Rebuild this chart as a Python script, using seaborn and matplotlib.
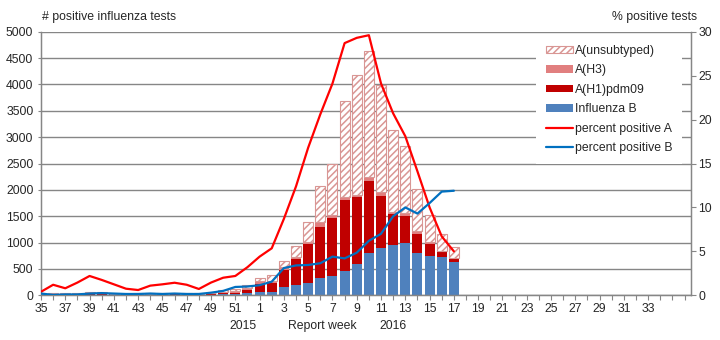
import numpy as np
import matplotlib
matplotlib.use("Agg")
import matplotlib.pyplot as plt
import seaborn as sns
from matplotlib.patches import Patch
from matplotlib.lines import Line2D

# ---------------- data ----------------
weeks = list(range(35, 53)) + list(range(1, 37))   # report weeks 2015/35 .. 2016/36

infl_b = [8, 10, 8, 8, 12, 12, 8, 8, 10, 10, 10, 12, 10, 8, 10, 18, 25, 38,
          70, 72, 163, 200, 227, 320, 370, 470, 598, 808, 902, 948, 1001, 802, 751, 730, 641]
a_h1 = [5, 10, 8, 8, 18, 18, 8, 8, 10, 12, 10, 14, 12, 10, 15, 30, 25, 62,
        139, 159, 317, 480, 749, 973, 1090, 1337, 1260, 1365, 986, 588, 508, 360, 225, 95, 57]
a_h3 = [3, 8, 6, 6, 10, 10, 5, 5, 6, 8, 8, 10, 8, 6, 10, 20, 26, 33,
        53, 39, 51, 52, 44, 91, 62, 63, 44, 64, 65, 38, 46, 51, 29, 24, 15]
a_unsub = [4, 12, 13, 13, 15, 15, 9, 9, 9, 15, 12, 14, 15, 11, 15, 32, 44, 62,
           68, 119, 119, 203, 366, 688, 968, 1820, 2278, 2393, 2037, 1556, 1275, 802, 517, 313, 197]

pct_a = [0.4, 1.2, 0.8, 1.45, 2.2, 1.75, 1.25, 0.75, 0.6, 1.1, 1.25, 1.43, 1.2, 0.72, 1.45, 2.0, 2.2, 3.2,
         4.4, 5.35, 8.7, 12.4, 16.8, 20.6, 24.1, 28.7, 29.3, 29.6, 24.1, 20.7, 18.1, 14.1, 10.0, 6.7, 5.0]
pct_b = [0.2, 0.05, 0.1, 0.1, 0.2, 0.25, 0.2, 0.15, 0.15, 0.2, 0.15, 0.2, 0.15, 0.15, 0.3, 0.5, 0.95, 1.0,
         1.15, 1.55, 3.1, 3.4, 3.45, 3.65, 4.4, 4.2, 4.85, 6.2, 7.0, 9.0, 10.0, 9.3, 10.5, 11.8, 11.9]

labels = ["A(unsubtyped)", "A(H3)", "A(H1)pdm09", "Influenza B",
          "percent positive A", "percent positive B"]

# ---------------- style ----------------
sns.set_style("white")
plt.rcParams["font.family"] = ["Liberation Sans", "DejaVu Sans"]
plt.rcParams["font.size"] = 8.8
plt.rcParams["hatch.linewidth"] = 1.1

C_B = "#4F81BD"
C_H1 = "#C00000"
C_H3 = "#E17F7F"
C_UN = "#D99694"
C_LA = "#FF0000"
C_LB = "#0070C0"
GRID = "#868686"

fig = plt.figure(figsize=(7.2, 3.4), dpi=100)
ax = fig.add_axes([41 / 720, 1 - 295.3 / 340, (690.7 - 41) / 720, (295.3 - 31.7) / 340])

n = len(infl_b)
x = np.arange(n)
b = np.array(infl_b, float)
h1 = np.array(a_h1, float)
h3 = np.array(a_h3, float)
un = np.array(a_unsub, float)
w = 0.82

ax.bar(x, b, width=w, color=C_B, linewidth=0, zorder=2)
ax.bar(x, h1, bottom=b, width=w, color=C_H1, linewidth=0, zorder=2)
ax.bar(x, h3, bottom=b + h1, width=w, color=C_H3, linewidth=0, zorder=2)
ax.bar(x, un, bottom=b + h1 + h3, width=w, facecolor="white", edgecolor=C_UN,
       hatch="/////", linewidth=0.8, zorder=2)

ax.set_xlim(0, len(weeks) - 0.5)
ax.set_ylim(0, 5000)
ax.set_yticks(np.arange(0, 5001, 500))
ax.set_axisbelow(True)
ax.yaxis.grid(True, color=GRID, linewidth=1.0)
ax.xaxis.grid(False)

ax.set_xticks(np.arange(len(weeks)))
ax.set_xticklabels([str(wk) if (i % 2 == 0 and i <= 50) else "" for i, wk in enumerate(weeks)])
ax.tick_params(axis="x", length=3.5, width=0.8, color=GRID, pad=2, direction="out", bottom=True)
ax.tick_params(axis="y", length=2.5, width=0.8, color=GRID, pad=3, direction="out", left=True)

for s in ["top"]:
    ax.spines[s].set_visible(False)
for s in ["left", "bottom", "right"]:
    ax.spines[s].set_color(GRID)
    ax.spines[s].set_linewidth(1.0)

ax2 = ax.twinx()
sns.lineplot(x=x, y=pct_a, ax=ax2, color=C_LA, linewidth=1.6, zorder=4)
sns.lineplot(x=x, y=pct_b, ax=ax2, color=C_LB, linewidth=1.6, zorder=4)
ax2.set_ylim(0, 30)
ax2.set_yticks(np.arange(0, 31, 5))
ax2.tick_params(axis="y", length=3.5, width=0.8, color=GRID, pad=2, direction="out", right=True)
ax2.spines["top"].set_visible(False)
for s in ["left", "bottom", "right"]:
    ax2.spines[s].set_color(GRID)
ax2.set_ylabel("")
ax2.set_xlim(0, len(weeks) - 0.5)

fig.text(42 / 720, 1 - 17 / 340, "# positive influenza tests", ha="left", va="center")
fig.text(697 / 720, 1 - 17 / 340, "% positive tests", ha="right", va="center")
fig.text(243 / 720, 1 - 326 / 340, "2015", ha="center", va="center")
fig.text(322 / 720, 1 - 326 / 340, "Report week", ha="center", va="center")
fig.text(393 / 720, 1 - 326 / 340, "2016", ha="center", va="center")

handles = [
    Patch(facecolor="white", edgecolor=C_UN, hatch="/////", linewidth=0.8),
    Patch(facecolor=C_H3, edgecolor="none"),
    Patch(facecolor=C_H1, edgecolor="none"),
    Patch(facecolor=C_B, edgecolor="none"),
    Line2D([], [], color=C_LA, linewidth=1.6),
    Line2D([], [], color=C_LB, linewidth=1.6),
]
leg = ax2.legend(handles, labels, loc="upper left",
                 bbox_to_anchor=(536 / 720, 1 - 35 / 340), bbox_transform=fig.transFigure,
                 frameon=True, facecolor="white", edgecolor="none", framealpha=1,
                 fancybox=False, borderaxespad=0, borderpad=0.8,
                 handlelength=2.2, handleheight=0.56, handletextpad=0.2,
                 labelspacing=0.61)
leg.set_zorder(10)

fig.savefig("out.png", dpi=100, facecolor="white")
